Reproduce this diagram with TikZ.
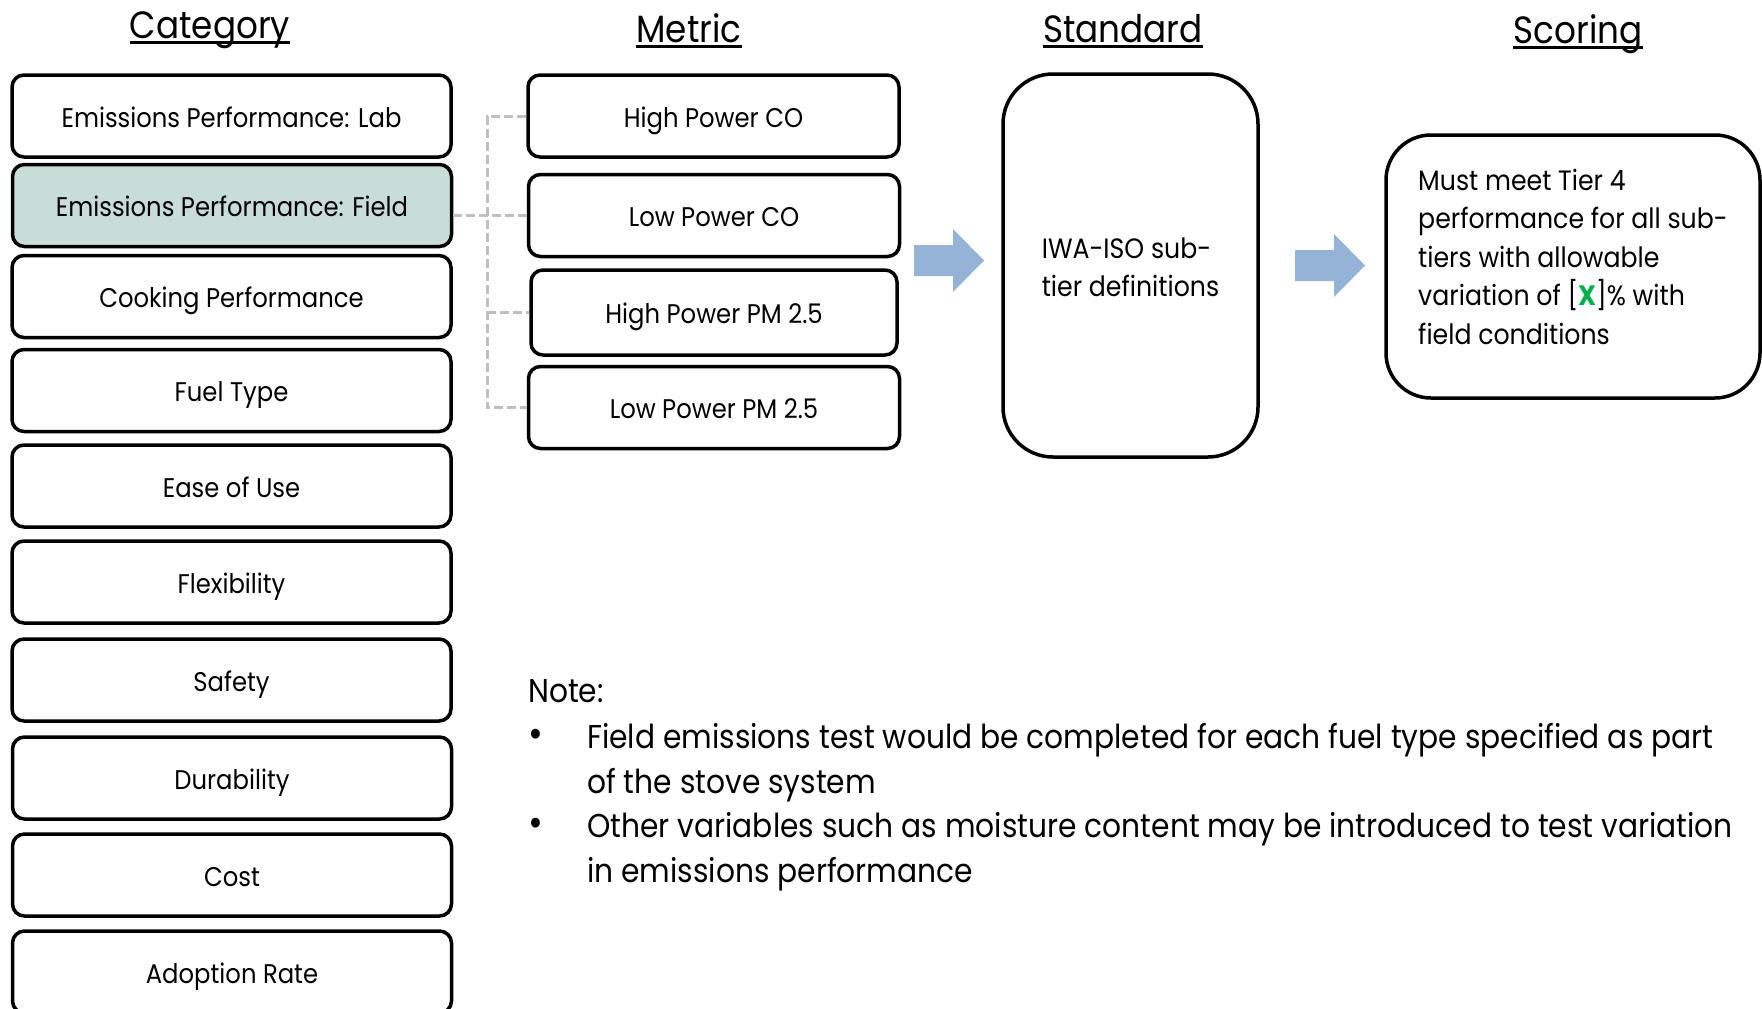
\documentclass[tikz,border=0pt]{standalone}
\usepackage{fontspec}
\setmainfont{Poppins}[FakeStretch=0.9]
\definecolor{fieldfill}{HTML}{C9DDD8}
\definecolor{arrowblue}{HTML}{95B3D7}
\definecolor{dashgray}{HTML}{BFBFBF}
\definecolor{xgreen}{HTML}{00B050}
\begin{document}
\begin{tikzpicture}[x=1pt,y=-1pt,
  catbox/.style={draw=black, line width=3.5pt, rounded corners=12pt, fill=white,
    minimum width=439pt, minimum height=82pt, inner sep=0pt,
    text height=24pt, text depth=2pt,
    font=\fontsize{27}{32}\selectfont},
  metbox/.style={catbox, minimum width=371pt},
  bigbox/.style={draw=black, line width=3.5pt, fill=white, inner sep=0pt},
  boxtext/.style={inner sep=0pt, align=left},
  header/.style={anchor=base, inner sep=0pt, font=\fontsize{38}{40}\selectfont},
  hline/.style={line width=2.5pt},
  conn/.style={draw=dashgray, line width=3pt, dash pattern=on 9pt off 4pt},
  blockarrow/.style={fill=arrowblue},
  notefont/.style={font=\fontsize{33}{44.5}\selectfont},
  bulletfont/.style={font=\fontsize{40}{44.5}\selectfont}]
\useasboundingbox (0,0) rectangle (1762,1009);
\clip (0,0) rectangle (1762,1009);

% headers
\node[header] (hcat) at (210,38) {Category};
\node[header] (hmet) at (689,42) {Metric};
\node[header] (hstd) at (1123,42) {Standard};
\node[header] (hsco) at (1578,43) {Scoring};
\foreach \h in {hcat,hmet,hstd,hsco}
  \draw[hline] ([yshift=-4.5pt]\h.base west) -- ([yshift=-4.5pt]\h.base east);

% categories
\node[catbox] (lab)    at (231.5,116)   {Emissions Performance: Lab};
\node[catbox, fill=fieldfill] (field) at (232,205.5) {Emissions Performance: Field};
\node[catbox] (cook)   at (231.5,296.5) {Cooking Performance};
\node[catbox] (fuel)   at (231.5,390.5) {Fuel Type};
\node[catbox] (ease)   at (231.5,486)   {Ease of Use};
\node[catbox] (flex)   at (231.5,582)   {Flexibility};
\node[catbox] (safety) at (231.5,680)   {Safety};
\node[catbox] (dur)    at (232,778)     {Durability};
\node[catbox] (cost)   at (232,875)     {Cost};
\node[catbox] (adopt)  at (232,972)     {Adoption Rate};

% metrics
\node[metbox] (hpco) at (713.5,116)   {High Power CO};
\node[metbox] (lpco) at (714,215.5)   {Low Power CO};
\node[metbox, minimum width=366pt, minimum height=85pt] (hppm) at (714,312.5) {High Power PM 2.5};
\node[metbox] (lppm) at (714,407.5)   {Low Power PM 2.5};

% dashed connectors
\coordinate (busx) at (487,0);
\draw[conn] (hpco.west) -- (hpco.west -| busx) -- (lppm.west -| busx) -- (lppm.west);
\draw[conn] (field.east |- lpco.west) -- (lpco.west);
\draw[conn] (hppm.west -| busx) -- (hppm.west);

% standard
\node[bigbox, rounded corners=50pt, minimum width=255pt, minimum height=383pt] (std) at (1130.5,265.5) {};
\node[boxtext, font=\fontsize{28}{38}\selectfont] (stdtext) at ([yshift=-2pt]std.center)
  {IWA-ISO sub-\\tier definitions};

% scoring
\node[bigbox, rounded corners=45pt, minimum width=374pt, minimum height=263pt] (sco) at (1573,266.5) {};
\node[boxtext, font=\fontsize{28}{38.5}\selectfont] (scotext) at ([yshift=10pt]sco.center)
  {Must meet Tier 4\\performance for all sub-\\tiers with allowable\\variation of [\textcolor{xgreen}{\textbf{X}}]\% with\\field conditions};

% block arrows
\fill[blockarrow] (914,245) -- (953,245) -- (953,229) -- (984,260.5) -- (953,292) -- (953,276) -- (914,276) -- cycle;
\fill[blockarrow] (1295,250) -- (1334,250) -- (1334,234) -- (1365,265.5) -- (1334,297) -- (1334,281) -- (1295,281) -- cycle;

% note
\node[notefont, anchor=base west, inner sep=0pt] (note) at (528,702) {Note:};
\node[bulletfont, anchor=base, inner sep=0pt] (b1) at (536,747) {\textbullet};
\node[notefont, anchor=base west, inner sep=0pt, align=left] (t1) at (587,793)
  {Field emissions test would be completed for each fuel type specified as part\\of the stove system};
\node[bulletfont, anchor=base, inner sep=0pt] (b2) at (536,836) {\textbullet};
\node[notefont, anchor=base west, inner sep=0pt, align=left] (t2) at (587,882)
  {Other variables such as moisture content may be introduced to test variation\\in emissions performance};
\end{tikzpicture}
\end{document}
